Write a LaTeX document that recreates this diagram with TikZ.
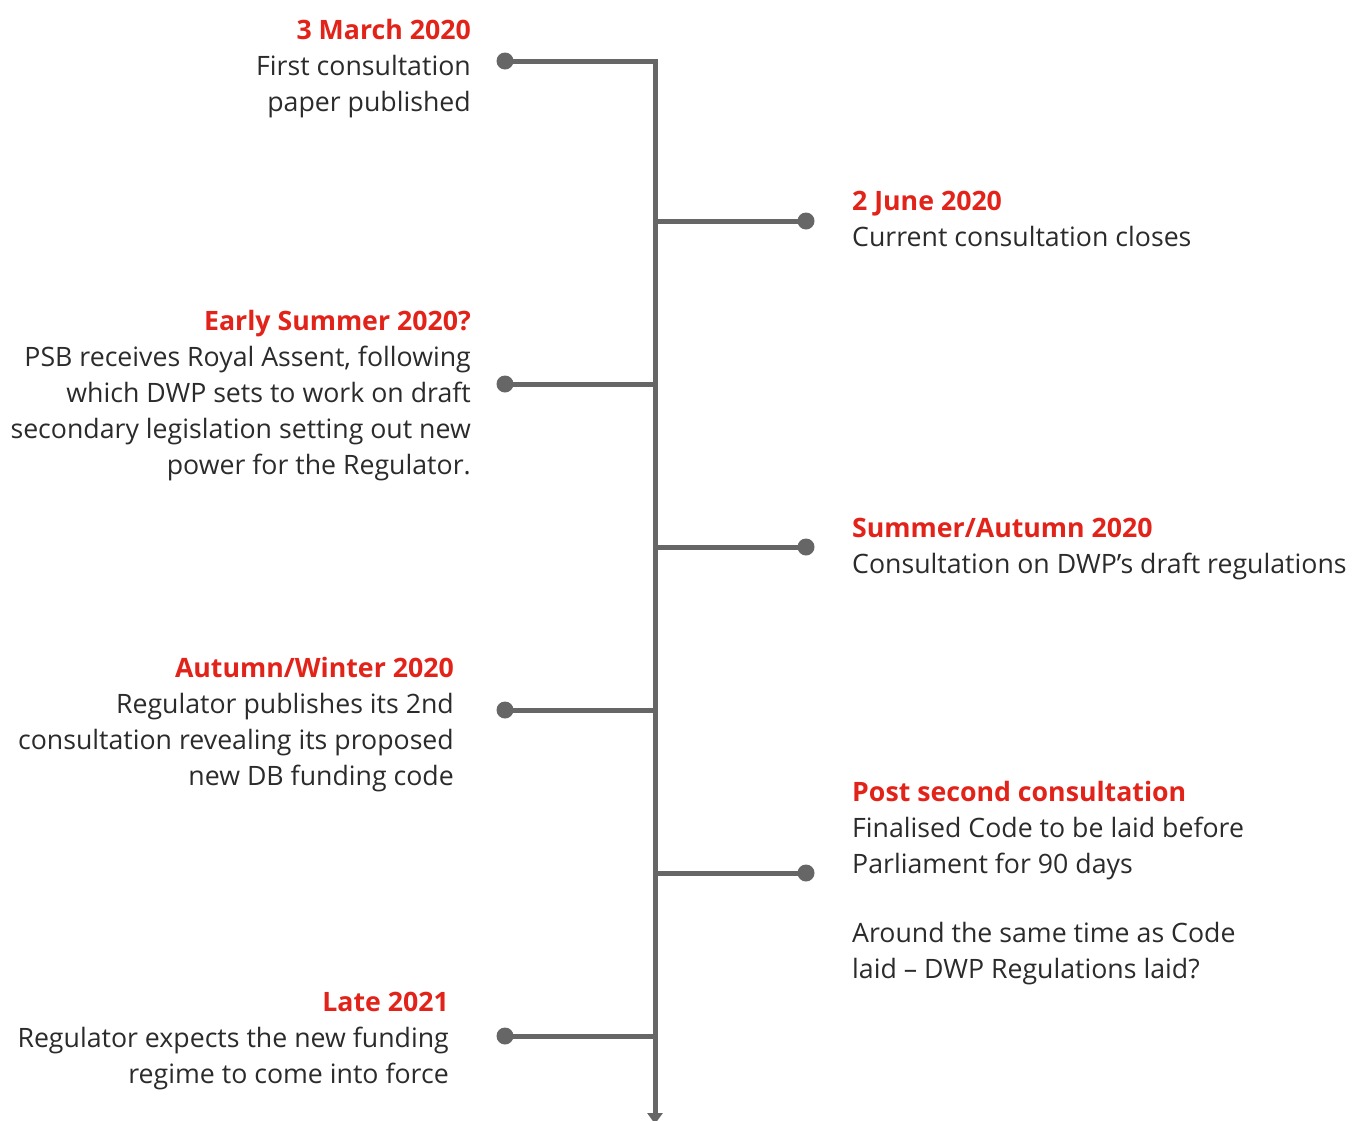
\documentclass[tikz,border=0pt]{standalone}
\usepackage{fontspec}
\setmainfont{Open Sans}
\usetikzlibrary{arrows.meta}
\definecolor{stemgray}{HTML}{666666}
\definecolor{datered}{HTML}{E2231A}
\definecolor{bodytext}{HTML}{2B2B2B}
\tikzset{
        dot/.style={circle, fill=stemgray, inner sep=0pt, minimum size=17pt}, % the little round ends
        stem/.style={draw=stemgray, line width=5pt},
        % a node's base is the baseline of its last line
        event/.style={inner sep=0pt, text=bodytext, font=\fontsize{26.7}{36}\selectfont},
        left event/.style={event, anchor=base east, align=right},
        right event/.style={event, anchor=base west, align=left}
    }
\newcommand*\when[1]{\textcolor{datered}{\bfseries #1}}
\begin{document}
\begin{tikzpicture}[x=1pt, y=-1pt]
\useasboundingbox (0,0) rectangle (1353,1120);
% dots on the left side
\node[dot] (march) at (505,61) {};
\node[dot] (summer) at (505,384) {};
\node[dot] (winter) at (505,710) {};
\node[dot] (late) at (505,1036) {};
% dots on the right side
\node[dot] (june) at (806,221) {};
\node[dot] (autumn) at (806,547) {};
\node[dot] (post) at (806,873) {};
\coordinate (corner) at (655,61);
\coordinate (bottom) at (655,1124);
% the time axis
\draw[stem, -{Triangle[width=15pt,length=11pt]}] (march.center) -- (corner) -- (bottom);
\foreach \d in {summer, winter, late, june, autumn, post}
  \draw[stem] (\d.center) -- (\d -| corner);
% texts
\node[left event] (t-march) at (471,111)
  {\when{3 March 2020}\\First consultation\\paper published};
\node[left event] (t-summer) at (471,474)
  {\when{Early Summer 2020?}\\PSB receives Royal Assent, following\\which DWP sets to work on draft\\secondary legislation setting out new\\power for the Regulator.};
\node[left event] (t-winter) at (454,785)
  {\when{Autumn/Winter 2020}\\Regulator publishes its 2nd\\consultation revealing its proposed\\new DB funding code};
\node[left event] (t-late) at (449,1083)
  {\when{Late 2021}\\Regulator expects the new funding\\regime to come into force};
\node[right event] (t-june) at (852,246)
  {\when{2 June 2020}\\Current consultation closes};
\node[right event] (t-autumn) at (852,573)
  {\when{Summer/Autumn 2020}\\Consultation on DWP’s draft regulations};
\node[right event] (t-post) at (852,978)
  {\when{Post second consultation}\\Finalised Code to be laid before\\Parliament for 90 days\\[33pt]Around the same time as Code\\laid – DWP Regulations laid?};
\end{tikzpicture}
\end{document}
